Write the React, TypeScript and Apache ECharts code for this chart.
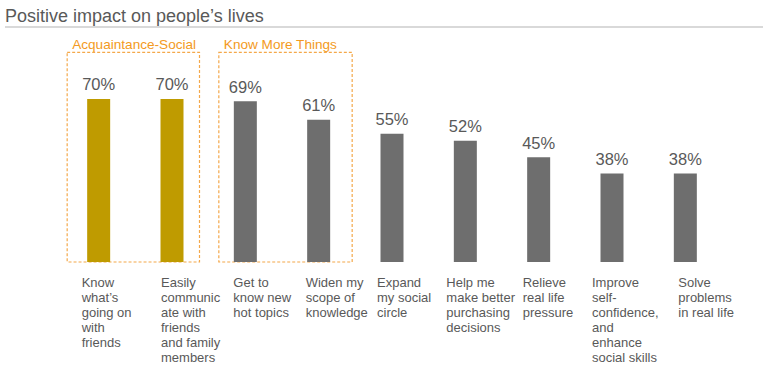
import React, { useEffect, useRef } from "react";
import * as echarts from "echarts";

const categories = [
  "Know\nwhat’s\ngoing on\nwith\nfriends",
  "Easily\ncommunic\nate with\nfriends\nand family\nmembers",
  "Get to\nknow new\nhot topics",
  "Widen my\nscope of\nknowledge",
  "Expand\nmy social\ncircle",
  "Help me\nmake better\npurchasing\ndecisions",
  "Relieve\nreal life\npressure",
  "Improve\nself-\nconfidence,\nand\nenhance\nsocial skills",
  "Solve\nproblems\nin real life",
];
const values = [70, 70, 69, 61, 55, 52, 45, 38, 38];
const groupIndex = [0, 0, 1, 1, 2, 2, 2, 2, 2];
const groupTitles = ["Acquaintance-Social", "Know More Things"];
const labelShift = [17, 11, 12, 13, 15, 19, 16, 20, 7];

const GOLD = "#BF9B00";
const GRAY = "#6E6E6E";
const TEXT = "#595959";
const ORANGE = "#F39A22";
const FONT = "Liberation Sans, Arial, sans-serif";

export default function App() {
  const ref = useRef<HTMLDivElement>(null);
  useEffect(() => {
    const chart = echarts.init(ref.current!, undefined, { renderer: "svg" });
    const rich: Record<string, any> = {};
    labelShift.forEach((d, i) => {
      rich["s" + i] = {
        width: d,
        align: "left",
        fontSize: 13,
        lineHeight: 15,
        color: TEXT,
        fontFamily: FONT,
      };
    });
    const titleLine = {
      type: "line",
      shape: { x1: 5, y1: 27, x2: 763, y2: 27 },
      style: { stroke: "#D9D9D9", lineWidth: 2 },
    };
    chart.setOption({
      animation: false,
      title: {
        text: "Positive impact on people’s lives",
        left: 0,
        top: 2,
        textStyle: { fontSize: 18, fontWeight: "normal", color: TEXT, fontFamily: FONT },
      },
      grid: { left: 62, right: 41, top: 29, bottom: 112, containLabel: false },
      xAxis: {
        type: "category",
        data: categories,
        axisLine: { show: false },
        axisTick: { show: false },
        axisLabel: {
          interval: 0,
          align: "right",
          margin: 13,
          formatter: (v: string, i: number) =>
            v.split("\n").map((l) => `{s${i}|${l}}`).join("\n"),
          rich,
        },
      },
      yAxis: {
        type: "value",
        min: 0,
        max: 100,
        show: false,
        splitLine: { show: false },
      },
      series: [
        {
          type: "bar",
          barWidth: 23,
          data: values.map((v, i) => ({
            value: v,
            itemStyle: { color: groupIndex[i] === 0 ? GOLD : GRAY },
          })),
          label: {
            show: true,
            position: "top",
            distance: 6,
            formatter: "{c}%",
            fontSize: 16.5,
            color: TEXT,
            fontFamily: FONT,
          },
        },
      ],
      graphic: [titleLine],
    });
    const c0 = chart.convertToPixel({ xAxisIndex: 0 }, 0) as number;
    const c1 = chart.convertToPixel({ xAxisIndex: 0 }, 1) as number;
    const c2 = chart.convertToPixel({ xAxisIndex: 0 }, 2) as number;
    const c3 = chart.convertToPixel({ xAxisIndex: 0 }, 3) as number;
    const base = chart.convertToPixel({ yAxisIndex: 0 }, 0) as number;
    const top = chart.convertToPixel({ yAxisIndex: 0 }, 90) as number;
    const boxes = [
      [c0 - 31.5, c1 + 27.5],
      [c2 - 26.5, c3 + 33.5],
    ];
    chart.setOption({
      graphic: [
        titleLine,
        ...boxes.map(([a, b]) => ({
          type: "rect",
          shape: { x: a, y: top, width: b - a, height: base - top },
          style: { fill: "none", stroke: "#F4A84A", lineWidth: 1.2, lineDash: [3, 2] },
        })),
        ...boxes.map(([a], i) => ({
          type: "text",
          x: a + 5,
          y: top - 8,
          style: {
            text: groupTitles[i],
            font: `13.6px ${FONT}`,
            fill: ORANGE,
            textAlign: "left",
            textVerticalAlign: "middle",
          },
        })),
      ],
    });
    return () => chart.dispose();
  }, []);
  return (
    <div
      ref={ref}
      style={{ position: "fixed", left: 0, top: 0, width: 763, height: 374, background: "#fff" }}
    />
  );
}
